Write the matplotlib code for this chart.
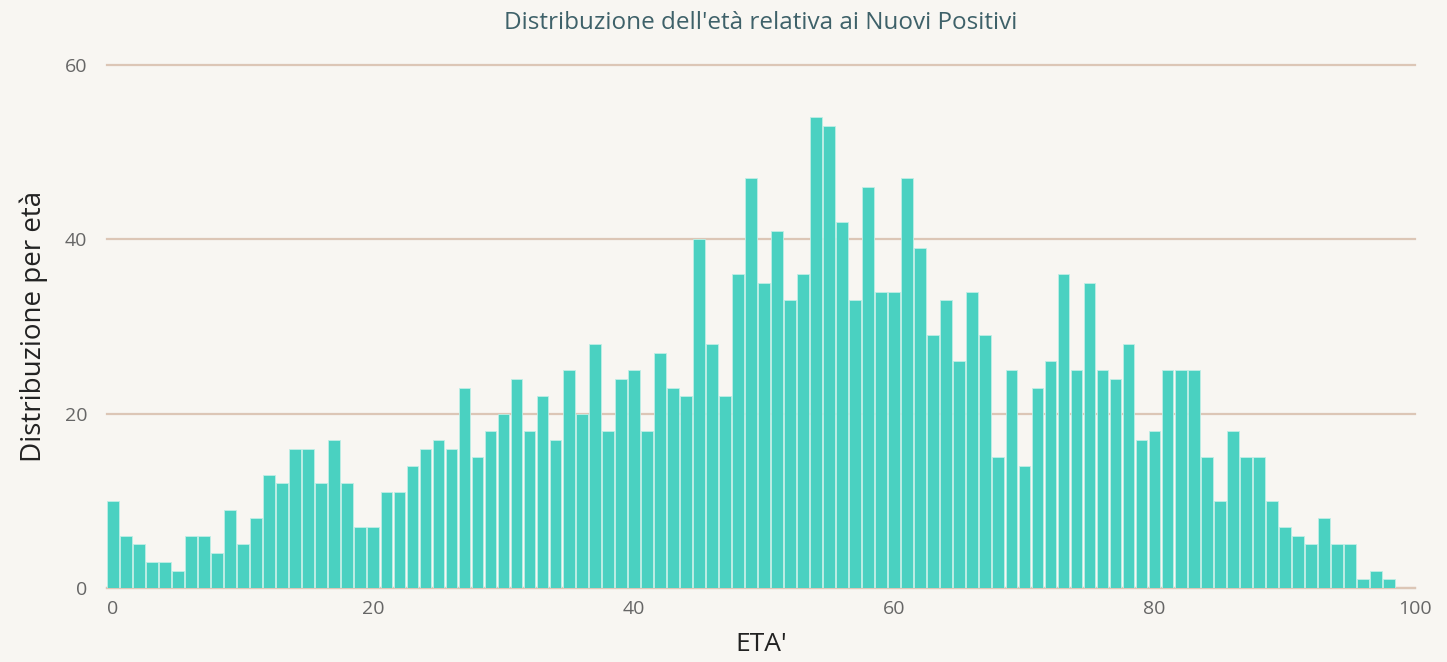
import numpy as np
import matplotlib.pyplot as plt

# Ages 0..98 and the count of new positives for each age
ages = list(range(0, 99))
counts = [
    10, 6, 5, 3, 3, 2, 6, 6, 4, 9,
    5, 8, 13, 12, 16, 16, 12, 17, 12, 7,
    7, 11, 11, 14, 16, 17, 16, 23, 15, 18,
    20, 24, 18, 22, 17, 25, 20, 28, 18, 24,
    25, 18, 27, 23, 22, 40, 28, 22, 36, 47,
    35, 41, 33, 36, 54, 53, 42, 33, 46, 34,
    34, 47, 39, 29, 33, 26, 34, 29, 15, 25,
    14, 23, 26, 36, 25, 35, 25, 24, 28, 17,
    18, 25, 25, 25, 15, 10, 18, 15, 15, 10,
    7, 6, 5, 8, 5, 5, 1, 2, 1,
]
x_ticks = [0, 20, 40, 60, 80, 100]
y_ticks = [0, 20, 40, 60]

bg = '#f8f6f2'
grid_col = '#dcc6b6'
plt.rcParams['font.family'] = ['Open Sans', 'DejaVu Sans']

fig = plt.figure(figsize=(14.47, 6.62), dpi=100, facecolor=bg)
ax = fig.add_axes([0.0739, 0.1118, 0.904, 0.79])
ax.set_facecolor(bg)

ax.bar(ages, counts, width=0.9, color='#4ad1c1', edgecolor='#bfeee6', linewidth=0.6, zorder=3)

ax.set_xlim(-0.46, 100)
ax.set_ylim(0, 60)
ax.set_xticks(x_ticks)
ax.set_yticks(y_ticks)
ax.yaxis.grid(True, color=grid_col, linewidth=1.6, zorder=0)
for gl in ax.get_ygridlines():
    gl.set_clip_on(False)
ax.tick_params(axis='both', length=0, labelsize=14, colors='#666666')
ax.tick_params(axis='y', pad=14)
ax.tick_params(axis='x', pad=9)
for s in ['top', 'right', 'left']:
    ax.spines[s].set_visible(False)
ax.spines['bottom'].set_color(grid_col)
ax.spines['bottom'].set_linewidth(1.6)

ax.set_title("Distribuzione dell'età relativa ai Nuovi Positivi", fontsize=17.5,
             color='#3e6169', pad=26)
ax.set_ylabel('Distribuzione per età', fontsize=20, color='#222222', labelpad=12)
ax.set_xlabel("ETA'", fontsize=19, color='#222222', labelpad=10)

fig.savefig('out.png', dpi=100, facecolor=bg)
